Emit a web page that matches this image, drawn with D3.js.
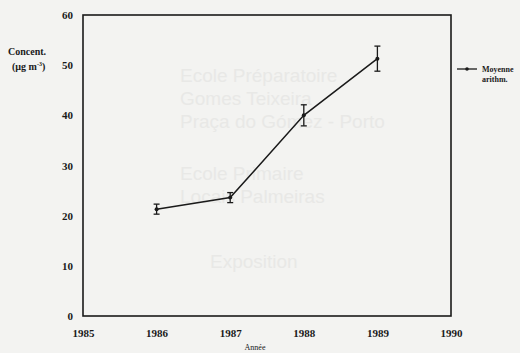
<!DOCTYPE html>
<html>
<head>
<meta charset="utf-8">
<script src="https://cdn.jsdelivr.net/npm/d3@7"></script>
<style>
  html, body { margin: 0; padding: 0; background: #f3f3f1; }
  #chart { width: 520px; height: 353px; }
  text { font-family: "Liberation Serif", "DejaVu Serif", serif; }
</style>
</head>
<body>
<div id="chart"></div>
<script>
// concentration moyenne annuelle (µg m-3) with error bars
const years = [1986, 1987, 1988, 1989];
const meanValues = [21.3, 23.6, 40.0, 51.3];
const errValues = [1.0, 1.0, 2.1, 2.5];
const xTicks = [1985, 1986, 1987, 1988, 1989, 1990];
const yTicks = [0, 10, 20, 30, 40, 50, 60];

// faint print-through from the reverse page
const ghostLines = [
  { t: 'Ecole Préparatoire', x: 180, y: 82 },
  { t: 'Gomes Teixeira', x: 180, y: 105 },
  { t: 'Praça do Gómez - Porto', x: 180, y: 128 },
  { t: 'Ecole Primaire', x: 180, y: 180 },
  { t: 'Locais Palmeiras', x: 180, y: 203 },
  { t: 'Exposition', x: 210, y: 268 },
];

const width = 520, height = 353;
const svg = d3.select('#chart').append('svg')
  .attr('width', width)
  .attr('height', height);

svg.append('g').selectAll('text')
  .data(ghostLines)
  .join('text')
  .attr('x', d => d.x)
  .attr('y', d => d.y)
  .style('font-family', 'Liberation Sans, Arial, sans-serif')
  .style('font-size', '19px')
  .style('fill', '#e8e8e6')
  .text(d => d.t);

const x = d3.scaleLinear().domain([1985, 1990]).range([83, 451]);
const y = d3.scaleLinear().domain([0, 60]).range([316, 15]);

// frame
svg.append('rect')
  .attr('x', x(1985))
  .attr('y', y(60))
  .attr('width', x(1990) - x(1985))
  .attr('height', y(0) - y(60))
  .attr('fill', 'none')
  .attr('stroke', '#1a1a1a')
  .attr('stroke-width', 1.6);

// axes (labels only)
const xAxis = svg.append('g')
  .attr('transform', `translate(0, ${y(0)})`)
  .call(d3.axisBottom(x).tickValues(xTicks).tickFormat(d3.format('d')).tickSize(0).tickPadding(13));
xAxis.select('.domain').remove();
xAxis.selectAll('text')
  .style('font-size', '11px')
  .style('font-weight', 'bold')
  .style('fill', '#1a1a1a');

const yAxis = svg.append('g')
  .attr('transform', `translate(${x(1985)}, 0)`)
  .call(d3.axisLeft(y).tickValues(yTicks).tickSize(0).tickPadding(10));
yAxis.select('.domain').remove();
yAxis.selectAll('text')
  .style('font-size', '11px')
  .style('font-weight', 'bold')
  .style('fill', '#1a1a1a');

// axis titles
svg.append('text')
  .attr('x', 8).attr('y', 55)
  .style('font-size', '10px').style('font-weight', 'bold').style('fill', '#1a1a1a')
  .text('Concent.');
const unit = svg.append('text')
  .attr('x', 12).attr('y', 70)
  .style('font-size', '10px').style('font-weight', 'bold').style('fill', '#1a1a1a');
unit.append('tspan').text('(µg m');
unit.append('tspan').attr('dy', -4).style('font-size', '6px').text('-3');
unit.append('tspan').attr('dy', 4).text(')');

svg.append('text')
  .attr('x', 255).attr('y', 350)
  .attr('text-anchor', 'middle')
  .style('font-size', '8px').style('fill', '#1a1a1a')
  .text('Année');

// line
const pts = years.map((yr, i) => ({ yr, v: meanValues[i], e: errValues[i] }));
svg.append('path')
  .datum(pts)
  .attr('fill', 'none')
  .attr('stroke', '#1a1a1a')
  .attr('stroke-width', 1.5)
  .attr('d', d3.line().x(d => x(d.yr)).y(d => y(d.v)));

// error bars
const eb = svg.append('g').selectAll('g').data(pts).join('g')
  .attr('stroke', '#1a1a1a').attr('stroke-width', 1.3);
eb.append('line')
  .attr('x1', d => x(d.yr)).attr('x2', d => x(d.yr))
  .attr('y1', d => y(d.v + d.e)).attr('y2', d => y(d.v - d.e));
eb.append('line')
  .attr('x1', d => x(d.yr) - 3).attr('x2', d => x(d.yr) + 3)
  .attr('y1', d => y(d.v + d.e)).attr('y2', d => y(d.v + d.e));
eb.append('line')
  .attr('x1', d => x(d.yr) - 3).attr('x2', d => x(d.yr) + 3)
  .attr('y1', d => y(d.v - d.e)).attr('y2', d => y(d.v - d.e));

svg.append('g').selectAll('circle').data(pts).join('circle')
  .attr('cx', d => x(d.yr)).attr('cy', d => y(d.v))
  .attr('r', 2).attr('fill', '#1a1a1a');

// legend
const lg = svg.append('g').attr('transform', 'translate(457, 69)');
lg.append('line').attr('x1', 0).attr('x2', 20).attr('y1', 0).attr('y2', 0)
  .attr('stroke', '#1a1a1a').attr('stroke-width', 1.3);
lg.append('circle').attr('cx', 10).attr('cy', 0).attr('r', 1.8).attr('fill', '#1a1a1a');
lg.append('text').attr('x', 25).attr('y', 3)
  .style('font-size', '8px').style('font-weight', 'bold').style('fill', '#1a1a1a')
  .text('Moyenne');
lg.append('text').attr('x', 25).attr('y', 13)
  .style('font-size', '8px').style('font-weight', 'bold').style('fill', '#1a1a1a')
  .text('arithm.');
</script>
</body>
</html>
